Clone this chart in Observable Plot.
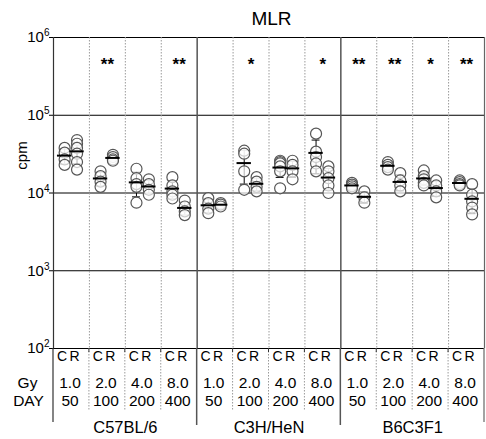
<!DOCTYPE html>
<html><head><meta charset="utf-8">
<script src="https://cdn.jsdelivr.net/npm/d3@7"></script>
<script src="https://cdn.jsdelivr.net/npm/@observablehq/plot@0.6"></script>
<style>
body{margin:0;background:#fff;font-family:"Liberation Sans",Arial,sans-serif;}
#wrap{position:relative;width:486px;height:439px;}
#title{position:absolute;top:7px;left:56px;width:431px;text-align:center;font-size:19px;line-height:24px;color:#000;z-index:2;}
#chart{position:absolute;top:14px;left:0;z-index:1;}
</style></head><body>
<div id="wrap"><div id="title">MLR</div><div id="chart"></div></div>
<script>
// ---- data ----
const strains = ["C57BL/6", "C3H/HeN", "B6C3F1"];
const gyLevels = ["1.0", "2.0", "4.0", "8.0"];
const dayLevels = ["50", "100", "200", "400"];
const arms = ["C", "R"];
const significance = ["", "**", "", "**", "", "*", "", "*", "**", "**", "*", "**"];
const yTicks = [1e2, 1e3, 1e4, 1e5, 1e6];

const c57C = [[38000, 33000, 27000, 23000], [19000, 16500, 14000, 12000], [20500, 15500, 13000, 12000, 7500], [16000, 12500, 10500, 9500, 8500]];
const c57R = [[48000, 43000, 38000, 32000, 25000, 20000], [31000, 29000, 27000, 26000], [15000, 13000, 11000, 9500], [8000, 6700, 5800, 5200]];
const c3hC = [[8600, 7400, 6300, 5500], [35000, 32000, 19000, 11000], [26000, 25000, 24000, 22000, 19000, 11500], [58000, 34000, 29000, 24000, 19000]];
const c3hR = [[7400, 7100, 6700], [16000, 14000, 12000, 10500], [26000, 23000, 19000, 15000], [22000, 19000, 15500, 12500, 10000]];
const b6C = [[13500, 12800, 12200, 11500], [25000, 23000, 21500, 20000], [19500, 16500, 15000, 13500, 12500], [14500, 13800, 13000, 12500]];
const b6R = [[10500, 8800, 7500], [18000, 14500, 12500, 10500], [14500, 12500, 10500, 8800], [13000, 9500, 7800, 6500, 5300]];

// ---- derived tables ----
const sets = [[c57C, c57R], [c3hC, c3hR], [b6C, b6R]];
const armOffset = [0.31, 0.655];
const labelOffset = [0.235, 0.585];
const points = [], stats = [], armLabels = [], panelLabels = [];
sets.forEach((pair, s) => {
  gyLevels.forEach((gy, g) => {
    const panel = s * 4 + g;
    panelLabels.push({x: panel + 0.46, gy, day: dayLevels[g], sig: significance[panel], xs: panel + 0.5});
    pair.forEach((arr, a) => {
      const x = panel + armOffset[a];
      const vals = arr[g];
      vals.forEach(v => points.push({x, v}));
      const m = d3.mean(vals), sd = d3.deviation(vals);
      stats.push({x, m, lo: m - sd, hi: m + sd});
      armLabels.push({x: panel + labelOffset[a], t: arms[a]});
    });
  });
});
const strainLabels = strains.map((s, i) => ({x: i * 4 + 2, t: s}));

const H = 425, MB = 91, TOP = 14;
const plot = Plot.plot({
  width: 486, height: H,
  marginTop: 23, marginBottom: MB, marginLeft: 53, marginRight: 2,
  style: {fontFamily: "Liberation Sans, Arial, sans-serif", background: "none", color: "#000"},
  x: {domain: [0, 12], axis: null},
  y: {type: "log", domain: [1e2, 1e6], axis: null},
  marks: [
    Plot.ruleY(yTicks, {stroke: "#000", strokeWidth: 1}),
    Plot.ruleX([1, 2, 3, 5, 6, 7, 9, 10, 11], {stroke: "#9a9a9a", strokeDasharray: "1.5,1.5"}),
    Plot.ruleX([4, 8], {stroke: "#555", strokeWidth: 1.5}),
    Plot.ruleX([12], {stroke: "#666", strokeWidth: 1.2}),
    Plot.ruleX([0], {stroke: "#333", strokeWidth: 1.2}),
    Plot.axisY({ticks: yTicks, tickSize: 4, tickPadding: 0, fontSize: 15, label: null,
      tickFormat: d => "10" + Math.round(Math.log10(d))}),
    Plot.ruleX(stats, {x: "x", y1: "lo", y2: "hi", stroke: "#000", strokeWidth: 1}),
    Plot.ruleY(stats, {y: "hi", x1: d => d.x - 0.11, x2: d => d.x + 0.11, stroke: "#000", strokeWidth: 1}),
    Plot.ruleY(stats, {y: "lo", x1: d => d.x - 0.11, x2: d => d.x + 0.11, stroke: "#000", strokeWidth: 1}),
    Plot.dot(points, {x: "x", y: "v", r: 5.5, stroke: "#555", strokeWidth: 1.2, fill: "white", fillOpacity: 0.7}),
    Plot.ruleY(stats, {y: "m", x1: d => d.x - 0.2, x2: d => d.x + 0.2, stroke: "#000", strokeWidth: 2}),
    Plot.text(panelLabels, {x: "xs", text: "sig", frameAnchor: "top", dy: 20, fontSize: 17, fontWeight: "bold"}),
    Plot.text(armLabels, {x: "x", text: "t", frameAnchor: "bottom", dy: 12, fontSize: 14}),
    Plot.text(panelLabels, {x: "x", text: "gy", frameAnchor: "bottom", dy: 39, fontSize: 15.5}),
    Plot.text(panelLabels, {x: "x", text: "day", frameAnchor: "bottom", dy: 57, fontSize: 15.5}),
    Plot.text(strainLabels, {x: "x", text: "t", frameAnchor: "bottom", dy: 84, fontSize: 16.5}),
    Plot.text(["Gy"], {frameAnchor: "bottom-left", textAnchor: "middle", dx: -26, dy: 39, fontSize: 15.5}),
    Plot.text(["DAY"], {frameAnchor: "bottom-left", textAnchor: "middle", dx: -25, dy: 57, fontSize: 15.5}),
    Plot.text(["cpm"], {frameAnchor: "top-left", textAnchor: "middle", dx: -37, dy: 118, rotate: -90, fontSize: 15})
  ]
});
document.getElementById("chart").appendChild(plot);

// superscript exponents on y tick labels
const svg = d3.select(plot);
svg.selectAll('[aria-label="y-axis tick label"] text').each(function() {
  const t = d3.select(this);
  const s = t.text();
  const exp = s.slice(2);
  t.text("10");
  t.append("tspan").attr("font-size", 10).attr("dy", "-0.6em").text(exp);
});

// table grid lines below the frame, positioned via Plot's x scale
const xs = plot.scale("x");
const bottom = H - MB;
const g = svg.append("g");
const seg = (v, pageY2, stroke, w, dash) => {
  const px = xs.apply(v);
  const l = g.append("line").attr("x1", px).attr("x2", px).attr("y1", bottom).attr("y2", pageY2 - TOP)
    .attr("stroke", stroke).attr("stroke-width", w);
  if (dash) l.attr("stroke-dasharray", dash);
};
[1, 2, 3, 5, 6, 7, 9, 10, 11].forEach(v => { seg(v, 410, "#9a9a9a", 1, "1.5,1.5"); seg(v, 352, "#333", 1); });
[4, 8].forEach(v => seg(v, 425, "#555", 1.5));
seg(0, 422, "#333", 1.2);
seg(12, 422, "#666", 1.2);
</script>
</body></html>
